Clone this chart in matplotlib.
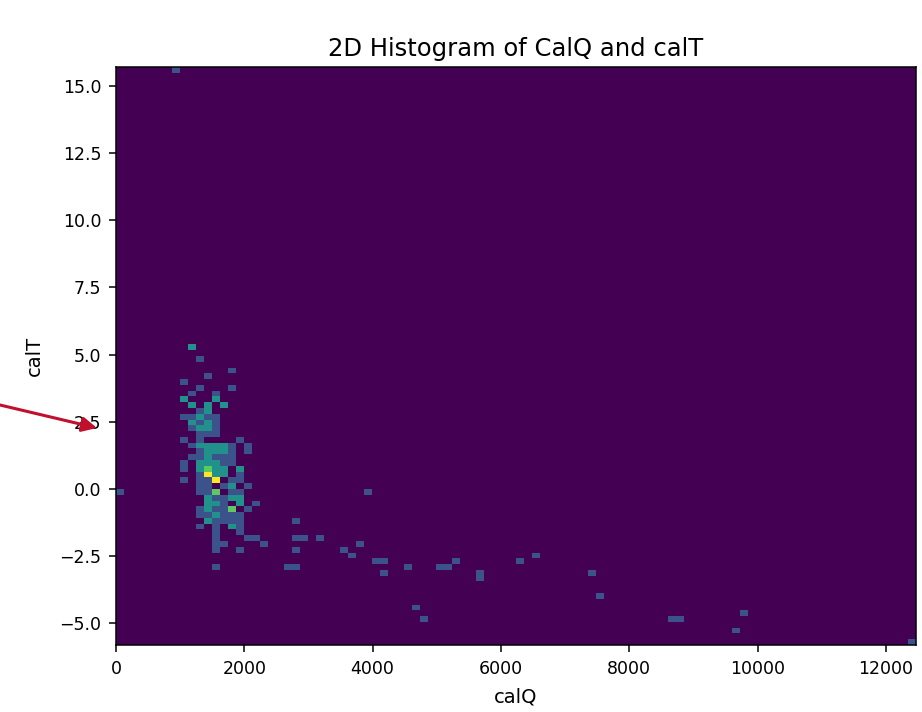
import numpy as np
import matplotlib
matplotlib.use('Agg')
import matplotlib.pyplot as plt

# calT value of each populated row of the histogram
t_rows = [15.60, 5.27, 4.84, 4.41, 4.19, 3.98, 3.76, 3.55, 3.33, 3.11,
          2.90, 2.68, 2.47, 2.25, 2.04, 1.82, 1.61, 1.39, 1.18, 0.96,
          0.75, 0.53, 0.32, 0.10, -0.12, -0.33, -0.55, -0.76, -0.98, -1.19,
          -1.41, -1.62, -1.84, -2.05, -2.27, -2.48, -2.70, -2.91, -3.13, -3.35,
          -3.99, -4.42, -4.64, -4.85, -5.28, -5.71]

# calQ values found in each of those rows
q_rows = [
    [935], [1185], [1309], [1808], [1434], [1060], [1309, 1808], [1185, 1559],
    [1060, 1559], [1185, 1434, 1683],
    [1309, 1434], [1060, 1185, 1309, 1434, 1559], [1185, 1309, 1434, 1559],
    [1185, 1309, 1434, 1559], [1309, 1434, 1559], [1060, 1309, 1933],
    [1185, 1309, 1434, 1559, 1683, 1808, 2057], [1309, 1434, 1559, 1683, 1808, 2057],
    [1185, 1309, 1434, 1559, 1683, 1808], [1060, 1309, 1434, 1559, 1683, 1808],
    [1060, 1309, 1434, 1559, 1683, 1933], [1309, 1434, 1559, 1683, 1933],
    [1060, 1309, 1434, 1559, 1808, 1933], [1309, 1434, 1683, 1808, 2057],
    [62, 1309, 1434, 1559, 1808, 1933, 3928], [1434, 1559, 1683, 1808, 1933],
    [1434, 1559, 1683, 1933, 2182], [1309, 1434, 1559, 1683, 1808, 2057],
    [1309, 1434, 1559, 1683, 1808, 1933], [1434, 1559, 1683, 1808, 1933, 2806],
    [1309, 1559, 1808, 1933], [1559, 1933], [1559, 2057, 2182, 2806, 2930, 3180],
    [1559, 1683, 2307, 3803], [1559, 1933, 2806, 3554], [3679, 6547],
    [4053, 4177, 5300, 6298], [1559, 2681, 2806, 4551, 5050, 5175],
    [4177, 5674, 7420], [5674],
    [7544], [4676], [9789], [4801, 8667, 8791], [9664], [12408]]

# number of events in each of those cells
n_rows = [
    [1], [2], [1], [1], [1], [1], [1, 1], [1, 1],
    [2, 2], [2, 2, 2],
    [1, 2], [1, 1, 2, 1, 1], [2, 1, 2, 1],
    [1, 2, 2, 1], [1, 1, 1], [1, 1, 1],
    [1, 2, 2, 2, 2, 1, 1], [1, 2, 2, 2, 1, 1],
    [1, 1, 2, 1, 1, 1], [1, 2, 2, 2, 1, 1],
    [1, 2, 3, 2, 2, 2], [1, 4, 2, 2, 1],
    [1, 1, 1, 4, 1, 1], [1, 1, 1, 2, 1],
    [1, 1, 1, 3, 1, 1, 1], [2, 1, 1, 2, 2],
    [2, 2, 1, 2, 1], [1, 2, 1, 1, 3, 1],
    [1, 1, 2, 1, 1, 1], [2, 1, 1, 1, 1, 1],
    [1, 1, 2, 1], [1, 1], [1, 1, 1, 1, 1, 1],
    [1, 1, 1, 1], [1, 1, 1, 1], [1, 1],
    [1, 1, 1, 1], [1, 1, 1, 1, 1, 1],
    [1, 1, 1], [1],
    [1], [1], [1], [1, 1, 1], [1], [1]]

q_range = (0, 12470)
t_range = (-5.82, 15.71)
n_bins = 100

cal_q = np.concatenate([np.array(q, dtype=float) for q in q_rows])
cal_t = np.concatenate([np.full(len(q), t) for q, t in zip(q_rows, t_rows)])
weights = np.concatenate([np.array(n, dtype=float) for n in n_rows])

fig = plt.figure(figsize=(9.22, 7.12), dpi=100)
ax = fig.add_axes([0.1258, 0.0941, 0.8677, 0.8118])

ax.hist2d(cal_q, cal_t, bins=n_bins, range=[q_range, t_range],
          weights=weights, cmap='viridis')

ax.set_title('2D Histogram of CalQ and calT', fontsize=17.5, pad=8)
ax.set_xlabel('calQ', fontsize=14, labelpad=7)
ax.set_ylabel('calT', fontsize=14, labelpad=11)
ax.set_yticks(np.arange(-5, 15.1, 2.5))
ax.tick_params(labelsize=12.5, length=5, width=1.1, pad=5.5)
for s in ax.spines.values():
    s.set_linewidth(1.1)

# red pointer towards the y axis
ax.annotate('', xy=(97 / 922, 1 - 428 / 712), xytext=(0, 1 - 405 / 712),
            xycoords='figure fraction', annotation_clip=False,
            arrowprops=dict(arrowstyle='-|>', color='#c0102e', lw=2.2,
                            mutation_scale=22, shrinkA=0, shrinkB=0))

fig.savefig('out.png', dpi=100)
